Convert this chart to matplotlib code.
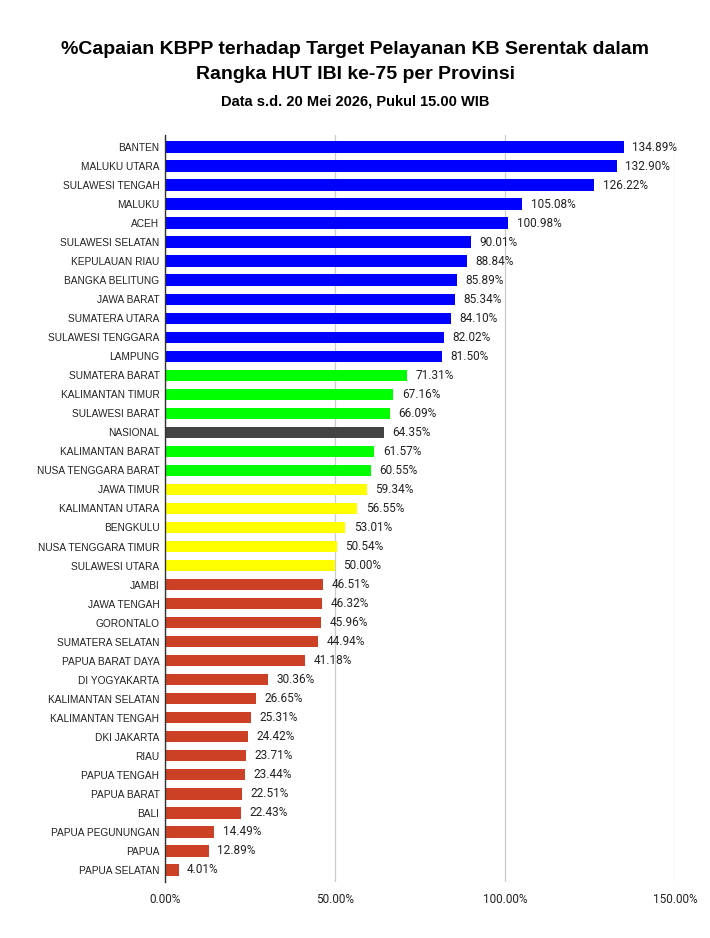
import matplotlib.pyplot as plt
import numpy as np

provinces = ['BANTEN', 'MALUKU UTARA', 'SULAWESI TENGAH', 'MALUKU', 'ACEH',
             'SULAWESI SELATAN', 'KEPULAUAN RIAU', 'BANGKA BELITUNG', 'JAWA BARAT',
             'SUMATERA UTARA', 'SULAWESI TENGGARA', 'LAMPUNG', 'SUMATERA BARAT',
             'KALIMANTAN TIMUR', 'SULAWESI BARAT', 'NASIONAL', 'KALIMANTAN BARAT',
             'NUSA TENGGARA BARAT', 'JAWA TIMUR', 'KALIMANTAN UTARA', 'BENGKULU',
             'NUSA TENGGARA TIMUR', 'SULAWESI UTARA', 'JAMBI', 'JAWA TENGAH',
             'GORONTALO', 'SUMATERA SELATAN', 'PAPUA BARAT DAYA', 'DI YOGYAKARTA',
             'KALIMANTAN SELATAN', 'KALIMANTAN TENGAH', 'DKI JAKARTA', 'RIAU',
             'PAPUA TENGAH', 'PAPUA BARAT', 'BALI', 'PAPUA PEGUNUNGAN', 'PAPUA',
             'PAPUA SELATAN']
values = [134.89, 132.90, 126.22, 105.08, 100.98, 90.01, 88.84, 85.89, 85.34,
          84.10, 82.02, 81.50, 71.31, 67.16, 66.09, 64.35, 61.57, 60.55, 59.34,
          56.55, 53.01, 50.54, 50.00, 46.51, 46.32, 45.96, 44.94, 41.18, 30.36,
          26.65, 25.31, 24.42, 23.71, 23.44, 22.51, 22.43, 14.49, 12.89, 4.01]

def bar_color(name, v):
    if name == 'NASIONAL':
        return '#434343'
    if v >= 80:
        return '#0000ff'
    if v >= 60:
        return '#00ff00'
    if v >= 50:
        return '#ffff00'
    return '#cc4125'

colors = [bar_color(p, v) for p, v in zip(provinces, values)]

fig = plt.figure(figsize=(7.1, 9.38), dpi=100)
ax = fig.add_axes([0.2324, 0.0597, 0.7183, 0.7964])

y = np.arange(len(provinces))
ax.barh(y, values, height=0.62, color=colors, zorder=3)
ax.set_ylim(len(provinces) - 0.35, -0.65)
ax.set_xlim(0, 150)
ax.set_yticks(y)
ax.set_yticklabels(provinces, fontsize=7.3, family='Liberation Sans', color='#222222')
ax.set_xticks([0, 50, 100, 150])
ax.set_xticklabels(['0.00%', '50.00%', '100.00%', '150.00%'], fontsize=8.5,
                   family='Roboto', color='#222222')
ax.tick_params(axis='y', length=0, pad=4)
ax.tick_params(axis='x', length=0, pad=8)
ax.grid(axis='x', color='#cccccc', linewidth=0.9, zorder=0)
for s in ['top', 'right', 'bottom']:
    ax.spines[s].set_visible(False)
ax.spines['left'].set_color('#333333')
ax.spines['left'].set_linewidth(1)
ax.spines['left'].set_zorder(4)

for yi, v in zip(y, values):
    ax.text(v + 2.5, yi, f'{v:.2f}%', va='center', ha='left', fontsize=8.5,
            family='Roboto', color='#222222')

fig.text(0.5, 0.947, '%Capaian KBPP terhadap Target Pelayanan KB Serentak dalam',
         ha='center', va='center', fontsize=14, fontweight='bold', family='Liberation Sans')
fig.text(0.5, 0.921, 'Rangka HUT IBI ke-75 per Provinsi',
         ha='center', va='center', fontsize=14, fontweight='bold', family='Liberation Sans')
fig.text(0.5, 0.892, 'Data s.d. 20 Mei 2026, Pukul 15.00 WIB',
         ha='center', va='center', fontsize=10.5, fontweight='bold', family='Liberation Sans')

fig.savefig('out.png', dpi=100, facecolor='white')
